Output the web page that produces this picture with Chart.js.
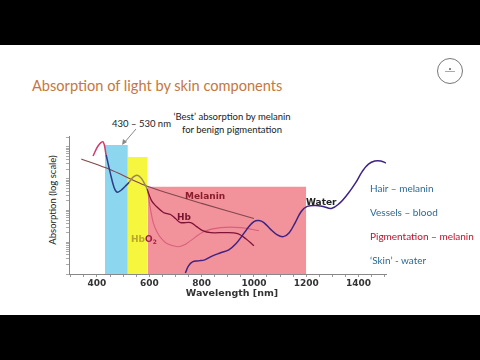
<!DOCTYPE html>
<html>
<head>
<meta charset="utf-8">
<script src="https://cdn.jsdelivr.net/npm/chart.js@4"></script>
<style>
  html, body { margin: 0; padding: 0; background: #000; }
  body { width: 480px; height: 360px; position: relative; overflow: hidden; font-family: Lato, "Open Sans", sans-serif; }
  #slide { position: absolute; left: 0; top: 45px; width: 480px; height: 270px; background: #fff; }
  #chart { position: absolute; left: 0; top: 0; }
  .t { position: absolute; white-space: nowrap; transform: translateY(-50%); line-height: 1; }
  .lbl { font-family: "DejaVu Sans", sans-serif; font-weight: bold; font-size: 9px; }
  .legend { font-size: 10px; color: #2b6a96; }
  #logo { position: absolute; left: 437px; top: 58px; width: 24px; height: 24px; border: 1px solid #777; border-radius: 50%; }
  #logo span { position: absolute; left: 7px; top: 12px; width: 10px; height: 1px; background: #aaa; }
  #logo i { position: absolute; left: 11px; top: 9px; width: 2px; height: 2px; background: #888; }
</style>
</head>
<body>
<div id="slide"></div>
<div id="logo"><i></i><span></span></div>
<div class="t" style="left:32px; top:86px; font-size:14.6px; color:#c5773f;">Absorption of light by skin components</div>
<div class="t" style="left:112px; top:124px; font-size:9.5px; color:#222;">430 – 530 nm</div>
<div class="t" style="left:232px; top:117px; font-size:9.5px; color:#222; transform:translate(-50%,-50%);">‘Best’ absorption by melanin</div>
<div class="t" style="left:232px; top:130px; font-size:9.5px; color:#222; transform:translate(-50%,-50%);">for benign pigmentation</div>
<div class="t" style="left:53px; top:200px; font-size:9.5px; color:#222; transform:translate(-50%,-50%) rotate(-90deg);">Absorption (log scale)</div>

<canvas id="chart" width="480" height="360"></canvas>

<svg style="position:absolute; left:0; top:0;" width="480" height="360">
  <line x1="136" y1="129" x2="124" y2="143" stroke="#888" stroke-width="1"/>
  <polygon points="122,145 123,139 127,142" fill="#888"/>
</svg>

<div class="t lbl" style="left:185px; top:196px; color:#8b1c2c;">Melanin</div>
<div class="t lbl" style="left:177px; top:217px; color:#7a1430;">Hb</div>
<div class="t lbl" style="left:131px; top:240px; color:#b8a82a;">Hb<span style="color:#a02040;">O</span><sub style="font-size:6px; color:#a02040;">2</sub></div>
<div class="t lbl" style="left:306px; top:202px; color:#222;">Water</div>

<div class="t legend" style="left:370px; top:188px;">Hair – melanin</div>
<div class="t legend" style="left:370px; top:212px;">Vessels – blood</div>
<div class="t legend" style="left:370px; top:236px; color:#c0102a;">Pigmentation – melanin</div>
<div class="t legend" style="left:370px; top:260px;">‘Skin’ - water</div>

<div class="t" style="left:232px; top:293px; font-family:'DejaVu Sans',sans-serif; font-weight:bold; font-size:9.5px; color:#333; transform:translate(-50%,-50%);">Wavelength [nm]</div>

<script>
// values (arbitrary absorption units, log axis)
const melaninNm = [340, 450, 592, 800, 1000];
const melaninAbs = [41.6, 19.4, 5.8, 1.67, 0.557];

const hbo2Nm = [385, 404, 423, 435, 450, 465, 477, 492, 508, 523, 538, 554, 569, 585, 592, 604, 615, 631, 650, 669, 708, 735, 758, 808, 873, 950, 1019];
const hbo2Abs = [51.8, 107, 144, 55.7, 16.1, 5.37, 3.73, 4.32, 5.78, 7.74, 11.2, 12.9, 10.4, 6.22, 4.64, 1.16, 0.416, 0.2, 0.12, 0.0895, 0.072, 0.083, 0.112, 0.215, 0.288, 0.288, 0.232];

const hbNm = [592, 608, 623, 654, 681, 700, 719, 758, 781, 804, 835, 892, 938, 969, 1000];
const hbAbs = [4.64, 2.07, 1.44, 0.865, 0.747, 0.557, 0.416, 0.416, 0.31, 0.232, 0.2, 0.2, 0.186, 0.129, 0.0774];

const waterNm = [738, 750, 765, 788, 812, 842, 873, 904, 931, 958, 981, 1000, 1019, 1038, 1065, 1088, 1112, 1135, 1158, 1181, 1204, 1235, 1265, 1296, 1327, 1358, 1388, 1415, 1438, 1462, 1485, 1505];
const waterAbs = [0.0108, 0.018, 0.024, 0.0259, 0.0278, 0.0373, 0.0464, 0.0578, 0.0895, 0.173, 0.31, 0.448, 0.482, 0.416, 0.249, 0.173, 0.15, 0.2, 0.416, 0.929, 1.34, 1.44, 1.34, 1.16, 1.67, 3.22, 7.2, 17.3, 28.8, 36, 36, 31];

// laser bands
const bandStart = [430, 518, 594];
const bandEnd = [518, 594, 1200];
const bandTop = [115, 48, 5.6];
const bandColors = ['#8dd6f0', '#f6f63e', '#f2939c'];

const xTickLabels = [400, 600, 800, 1000, 1200, 1400];

const pts = (xs, ys) => xs.map((x, i) => ({x: x, y: ys[i]}));

const datasets = [];
bandStart.forEach((s, i) => {
    datasets.push({
        data: [{x: s, y: bandTop[i]}, {x: bandEnd[i], y: bandTop[i]}],
        backgroundColor: bandColors[i],
        borderWidth: 0,
        pointRadius: 0,
        fill: 'start',
        order: 10
    });
});

datasets.push({
    label: 'Melanin',
    data: pts(melaninNm, melaninAbs),
    borderColor: '#80484c',
    borderWidth: 1.1,
    pointRadius: 0,
    tension: 0.2,
    order: 3
});
datasets.push({
    label: 'HbO2',
    data: pts(hbo2Nm, hbo2Abs),
    borderColor: '#d8607a',
    borderWidth: 1.1,
    pointRadius: 0,
    tension: 0.35,
    segment: {
        // line looks different over each coloured band
        borderColor: ctx => {
            const x = ctx.p0.parsed.x;
            if (x < 425) return '#cc3d6e';
            if (x < 520) return '#2e3d86';
            if (x < 592) return '#9a8560';
            return undefined;
        },
        borderWidth: ctx => (ctx.p0.parsed.x < 592 ? 1.5 : undefined)
    },
    order: 2
});
datasets.push({
    label: 'Hb',
    data: pts(hbNm, hbAbs),
    borderColor: '#801438',
    borderWidth: 1.3,
    pointRadius: 0,
    tension: 0.35,
    order: 1
});
datasets.push({
    label: 'Water',
    data: pts(waterNm, waterAbs),
    borderColor: '#3e2383',
    borderWidth: 1.5,
    pointRadius: 0,
    tension: 0.4,
    order: 0
});

new Chart(document.getElementById('chart'), {
    type: 'line',
    data: { datasets: datasets },
    options: {
        responsive: false,
        animation: false,
        layout: { padding: { left: 61, right: 94, top: 136, bottom: 66 } },
        plugins: { legend: { display: false }, tooltip: { enabled: false } },
        scales: {
            x: {
                type: 'linear',
                min: 293,
                max: 1505,
                afterBuildTicks: scale => {
                    const t = [];
                    for (let v = 300; v <= 1500; v += 50) t.push({value: v});
                    scale.ticks = t;
                },
                afterFit: scale => { scale.height = 20; },
                grid: { drawOnChartArea: false, tickLength: 3, color: '#999' },
                border: { color: '#888' },
                ticks: {
                    autoSkip: false,
                    maxRotation: 0,
                    padding: 1,
                    color: '#333',
                    font: { family: 'DejaVu Sans', weight: 'bold', size: 9 },
                    callback: v => (xTickLabels.includes(v) ? String(v) : '')
                }
            },
            y: {
                type: 'logarithmic',
                min: 0.01,
                max: 220,
                afterBuildTicks: scale => {
                    const t = [];
                    for (let e = -2; e <= 2; e++) {
                        for (let m = 1; m <= 9; m++) {
                            const v = m * Math.pow(10, e);
                            if (v <= 220) t.push({value: v});
                        }
                    }
                    scale.ticks = t;
                },
                afterFit: scale => { scale.width = 8; },
                grid: { drawOnChartArea: false, tickLength: 3, color: '#aaa' },
                border: { color: '#888' },
                ticks: { display: false }
            }
        }
    }
});
</script>
</body>
</html>
